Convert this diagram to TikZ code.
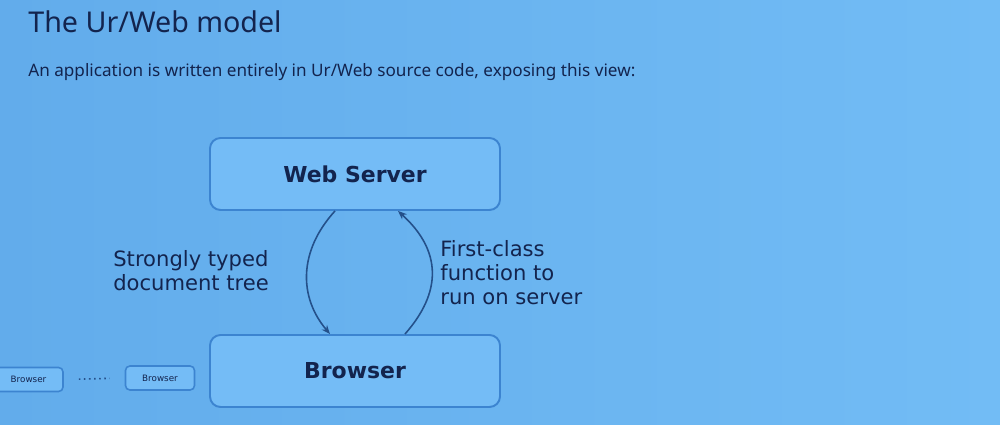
\documentclass[tikz,border=0pt]{standalone}
\usepackage{fontspec}
\setmainfont{DejaVu Sans}
\newfontfamily\noto{Noto Sans}
\usetikzlibrary{arrows.meta}
\definecolor{bgL}{HTML}{62ACEB}
\definecolor{bgR}{HTML}{72BCF5}
\definecolor{boxfill}{HTML}{74BCF6}
\definecolor{boxline}{HTML}{3C84D0}
\definecolor{ink}{HTML}{13244E}
\definecolor{arrowc}{HTML}{24508A}
\tikzset{
  bigbox/.style={draw=boxline, line width=1.1pt, fill=boxfill, rounded corners=6pt,
    minimum width=5.8cm, minimum height=1.44cm, text=ink,
    font=\fontsize{12.5}{15}\selectfont\bfseries},
  smallbox/.style={draw=boxline, line width=0.9pt, fill=boxfill, rounded corners=2.5pt,
    minimum width=1.38cm, minimum height=0.48cm, text=ink, inner sep=1pt,
    font=\fontsize{5}{6}\selectfont},
  lbl/.style={text=ink, align=left, inner sep=0pt,
    font=\fontsize{12}{13.6}\selectfont},
  arr/.style={draw=arrowc, line width=0.9pt, -{Stealth[length=5pt,width=4pt]}}
}
\begin{document}
\begin{tikzpicture}
\shade[left color=bgL, right color=bgR] (0,0) rectangle (20,8.5);
\useasboundingbox (0,0) rectangle (20,8.5);

\node[anchor=base west, inner sep=0pt, text=ink, font=\noto\fontsize{16.3}{19}\selectfont] (title) at (0.56,7.84) {The Ur/Web model};
\node[anchor=base west, inner sep=0pt, text=ink, font=\noto\fontsize{9.75}{11}\selectfont] (sub) at (0.56,6.96) {An application is written entirely in Ur/Web source code, exposing this view:};

\node[bigbox] (ws) at (7.1,5.02) {Web Server};
\node[bigbox] (br) at (7.1,1.08) {Browser};

\draw[arr] ([xshift=-0.4cm]ws.south) .. controls +(-0.73,-0.8) and +(-0.63,0.74) .. ([xshift=-0.5cm]br.north);
\draw[arr] ([xshift=1.0cm]br.north) .. controls +(0.74,0.84) and +(0.88,-0.8) .. ([xshift=0.86cm]ws.south);

\node[lbl, anchor=west] (l1) at (2.26,3.09) {Strongly typed\\document tree};
\node[lbl, anchor=west] (l2) at (8.8,3.04) {First-class\\function to\\run on server};

\node[smallbox] (b1) at (0.57,0.91) {Browser};
\node[smallbox] (b2) at (3.2,0.94) {Browser};
\draw[draw=arrowc, line width=0.9pt, dotted, shorten <=0.3cm, shorten >=0.3cm] (b1.east) -- (b2.west);
\end{tikzpicture}
\end{document}
